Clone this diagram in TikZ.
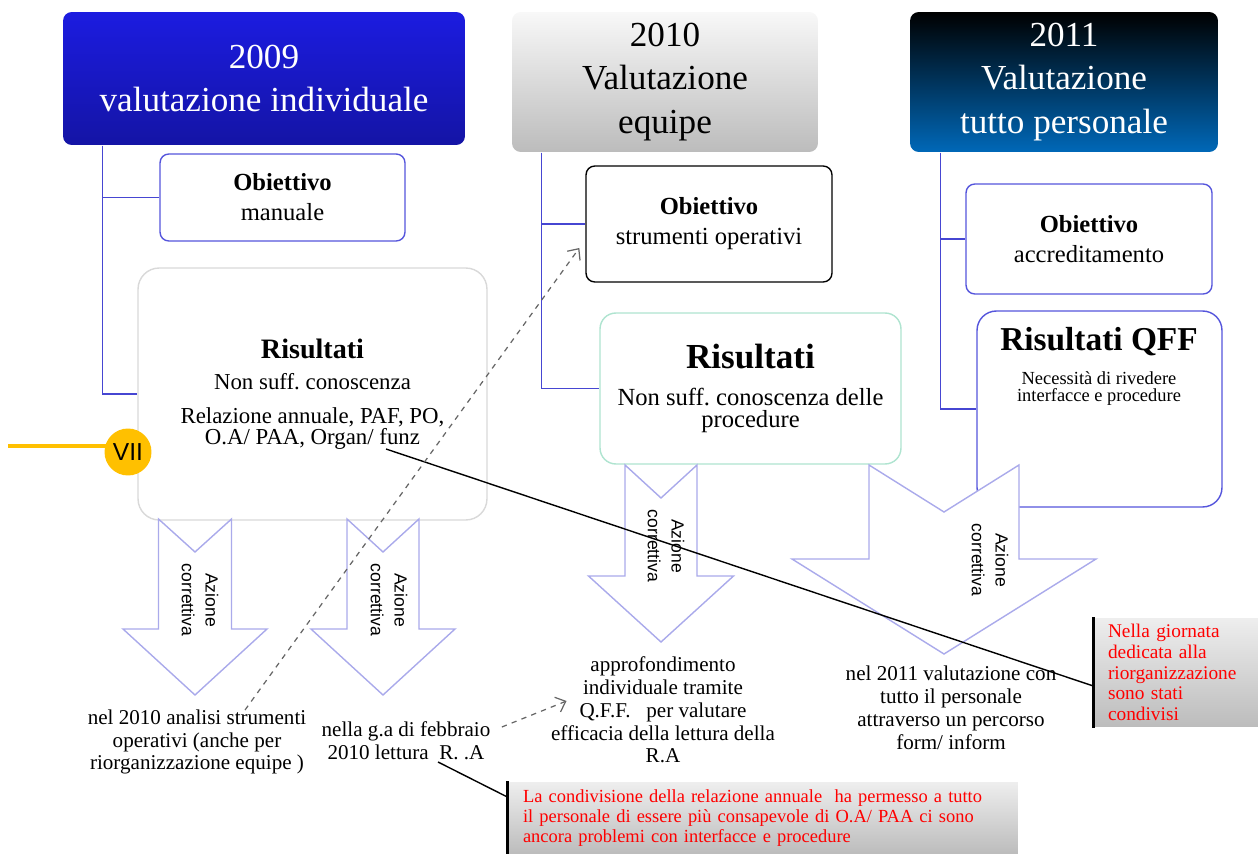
\documentclass[tikz,border=0pt]{standalone}
\usepackage{fontspec}
\setmainfont{Liberation Serif}
\setsansfont{Liberation Sans}
\usetikzlibrary{calc,arrows.meta}
\frenchspacing

\definecolor{hblue1}{RGB}{28,28,224}
\definecolor{hblue2}{RGB}{20,20,165}
\definecolor{hgray1}{RGB}{248,248,248}
\definecolor{hgray2}{RGB}{188,188,188}
\definecolor{hsea}{RGB}{0,104,184}
\definecolor{lnblue}{RGB}{70,70,210}
\definecolor{bxblue}{RGB}{85,85,220}
\definecolor{arrlav}{RGB}{170,170,235}
\definecolor{risteal}{RGB}{175,228,208}
\definecolor{vyellow}{RGB}{255,192,0}
\definecolor{rcgray1}{RGB}{238,238,238}
\definecolor{rcgray2}{RGB}{188,188,188}

% freccia "azione correttiva": centro, mezza asta, alto, tacca, testa, mezza testa, punta
\newcommand{\corrarrow}[7]{%
  \draw[azarrow] (#1-#2,#3) -- (#1,#4) -- (#1+#2,#3) -- (#1+#2,#5)
    -- (#1+#6,#5) -- (#1,#7) -- (#1-#6,#5) -- (#1-#2,#5) -- cycle;}

\begin{document}
\begin{tikzpicture}[x=0.02cm, y=-0.02cm, thick,
  hdr/.style={rounded corners=5pt, align=center, inner sep=0pt,
    font=\fontsize{20}{25}\selectfont},
  obj/.style={draw=bxblue, line width=0.8pt, rounded corners=5pt, fill=white,
    align=center, minimum width=4.9cm, font=\fontsize{14}{17}\selectfont},
  res/.style={line width=0.8pt, fill=white, align=center},
  conn/.style={draw=lnblue, line width=0.8pt},
  azarrow/.style={draw=arrlav, line width=0.8pt, fill=white, line join=miter},
  aztext/.style={rotate=-90, align=center, font=\sffamily\fontsize{10}{13.6}\selectfont},
  note/.style={align=center, font=\fontsize{12}{13}\selectfont},
  redbox/.style={top color=rcgray1, bottom color=rcgray2, align=left, text=red,
    inner ysep=2pt, font=\fontsize{11}{11.8}\selectfont},
  dasharr/.style={draw=black!60, dashed, line width=0.7pt,
    -{Straight Barb[length=5pt,width=9pt]}}]
  \useasboundingbox (0,0) rectangle (1258,854);

  % intestazioni
  \node[hdr, top color=hblue1, bottom color=hblue2, text=white,
    minimum width=8.04cm, minimum height=2.66cm] (h2009) at (264,78.5)
    {2009\\valutazione individuale};
  \node[hdr, top color=hgray1, bottom color=hgray2,
    minimum width=6.12cm, minimum height=2.8cm] (h2010) at (665,82)
    {2010\\Valutazione\\equipe};
  \node[hdr, top color=black, bottom color=hsea, text=white,
    minimum width=6.16cm, minimum height=2.8cm] (h2011) at (1064,82)
    {2011\\Valutazione\\tutto personale};

  \node[obj, minimum height=1.74cm] (ob1) at (282.5,197.5)
    {\textbf{Obiettivo}\\manuale};
  \node[obj, draw=black, minimum width=4.92cm, minimum height=2.32cm] (ob2) at (709,224)
    {\textbf{Obiettivo}\\strumenti operativi};
  \node[obj, minimum width=4.92cm, minimum height=2.2cm] (ob3) at (1089,239)
    {\textbf{Obiettivo}\\accreditamento};

  \node[res, draw=black!15, rounded corners=12pt, minimum width=6.98cm,
    minimum height=5.04cm, font=\fontsize{13}{12}\selectfont] (res1) at (312.5,394)
    {{\fontsize{16}{12}\selectfont\bfseries Risultati}\\[5.6pt]
     Non suff. conoscenza\\[7.3pt]
     Relazione annuale, PAF, PO,\\ O.A/ PAA, Organ/ funz};
  \node[res, draw=risteal, rounded corners=9pt, minimum width=6.02cm,
    minimum height=3.02cm, font=\fontsize{14}{12.5}\selectfont] (res2) at (750.5,388.5)
    {{\fontsize{20}{12.5}\selectfont\bfseries Risultati}\\[9pt]
     Non suff. conoscenza delle\\ procedure};
  \node[res, draw=bxblue, rounded corners=11pt, minimum width=4.9cm,
    minimum height=3.92cm] (res3) at (1099.5,409) {};
  \node[align=center, font=\fontsize{10.5}{9.6}\selectfont] (res3txt) at (1099,366)
    {{\fontsize{19}{9.6}\selectfont\bfseries Risultati QFF}\\[8pt]
     Necessità di rivedere\\ interfacce e procedure};

  \draw[conn] ([xshift=0.8cm]h2009.south west) |- (ob1.west);
  \draw[conn] ([xshift=0.8cm]h2009.south west) |- (res1.west);
  \draw[conn] ([xshift=0.6cm]h2010.south west) |- (ob2.west);
  \draw[conn] ([xshift=0.6cm]h2010.south west) |- (res2.west);
  \draw[conn] ([xshift=0.62cm]h2011.south west) |- (ob3.west);
  \draw[conn] ([xshift=0.62cm]h2011.south west) |- (res3.west);

  \corrarrow{195}{36.5}{519}{552}{629}{72}{695}
  \corrarrow{383}{36}{519}{552}{629}{72}{695}
  \corrarrow{661}{36}{465}{498}{576}{72.5}{642}
  \corrarrow{944}{75}{465}{512}{559}{152}{654}

  \node[aztext] (az1) at (200,600) {Azione\\correttiva};
  \node[aztext] (az2) at (389,600) {Azione\\correttiva};
  \node[aztext] (az3) at (666,546) {Azione\\correttiva};
  \node[aztext] (az4) at (990,560) {Azione\\correttiva};

  \node[note] (nb1) at (197,742)
    {nel 2010 analisi strumenti\\operativi (anche per\\riorganizzazione equipe )};
  \node[note] (nb2) at (406,741) {nella g.a di febbraio\\2010 lettura\ \ R. .A};
  \node[note] (nb3) at (663,710)
    {approfondimento\\individuale tramite\\Q.F.F.\ \ \ per valutare\\efficacia della lettura della\\R.A};
  \node[note] (nb4) at (951,708)
    {nel 2011 valutazione con\\tutto il personale\\attraverso un percorso\\form/ inform};

  \node[redbox, minimum width=3.28cm, minimum height=2.18cm, text width=2.72cm,
    inner xsep=0.28cm] (red1) at (1176,672.5)
    {Nella giornata\\dedicata alla\\riorganizzazione\\sono stati\\condivisi};
  \draw[line width=1.6pt] (red1.north west) -- (red1.south west);
  \node[redbox, minimum width=10.2cm, minimum height=1.44cm, text width=9.6cm,
    inner xsep=0.3cm, font=\fontsize{10.5}{11.3}\selectfont] (red2) at (763,818)
    {La condivisione della relazione annuale\ \ ha permesso a tutto\\
     il personale di essere più consapevole di O.A/ PAA ci sono\\
     ancora problemi con interfacce e procedure};
  \draw[line width=1.6pt] (red2.north west) -- (red2.south west);

  \coordinate (funz) at (386,449);
  \coordinate (ra) at (438,762);
  \draw[line width=0.8pt] (funz) -- ([yshift=-0.27cm]red1.west);
  \draw[line width=0.8pt] (ra) -- ([yshift=0.42cm]red2.west);

  \draw[dasharr] ($(nb1.north)+(48,7)$) -- ($(ob2.west)+(-6,24)$);
  \draw[dasharr] ($(nb2.east)+(5,-14)$) -- ($(nb3.west)+(22,-9)$);

  \node[circle, fill=vyellow, minimum size=0.94cm, inner sep=0pt,
    font=\sffamily\fontsize{14}{14}\selectfont] (vii) at (128,452) {VII};
  \coordinate (ystart) at (8,446);
  \draw[vyellow, line width=2.8pt] (ystart) -- ($(ystart -| vii.west)+(3,0)$);
\end{tikzpicture}
\end{document}
